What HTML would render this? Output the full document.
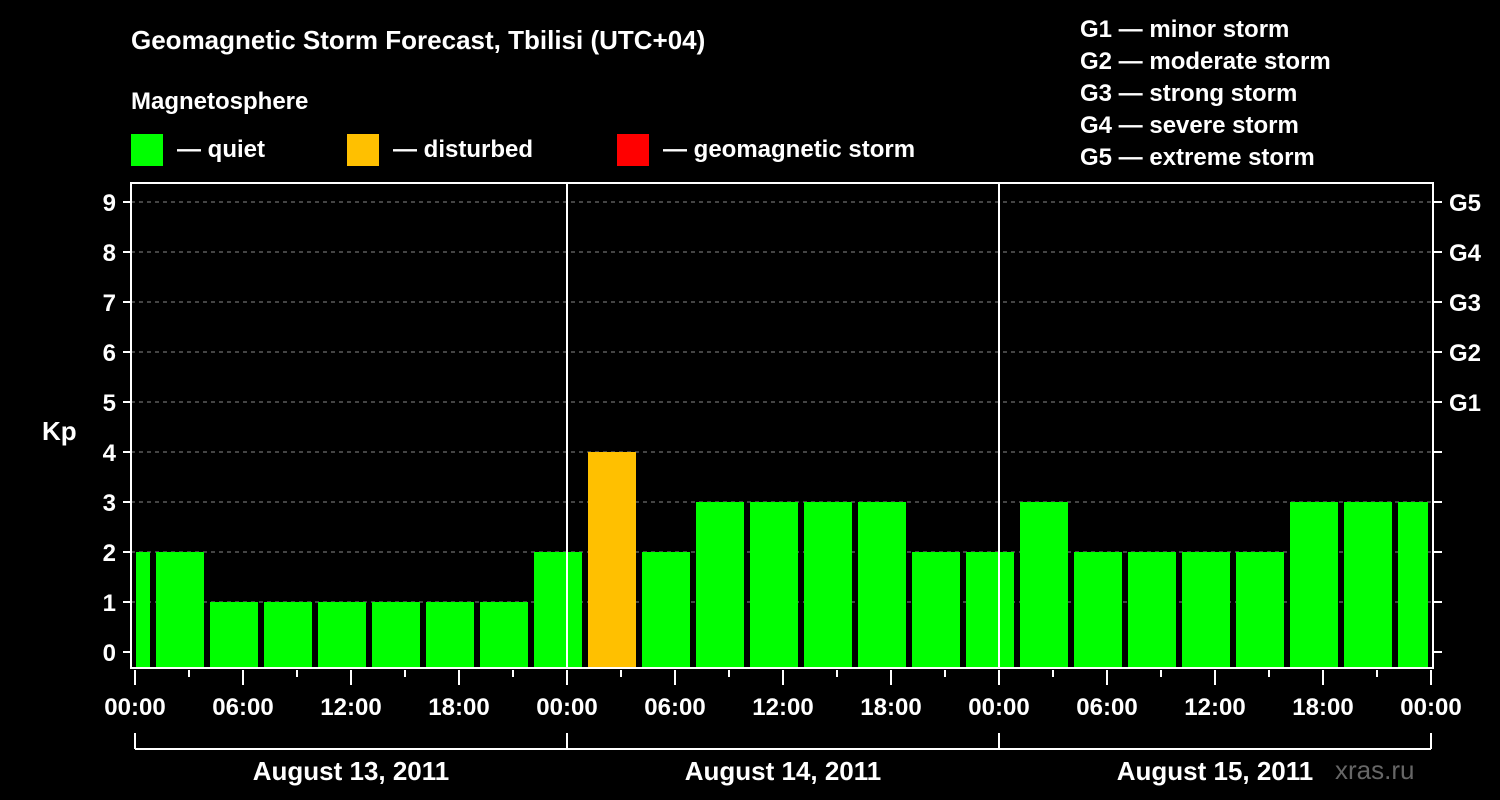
<!DOCTYPE html>
<html><head><meta charset="utf-8"><style>
html,body{margin:0;padding:0;background:#000;width:1500px;height:800px;overflow:hidden}
svg text{font-family:"Liberation Sans",Arial,sans-serif;font-weight:bold;fill:#fff}
</style></head><body>
<svg id="chart" width="1500" height="800" xmlns="http://www.w3.org/2000/svg">
<text x="131" y="49" font-size="26">Geomagnetic Storm Forecast, Tbilisi (UTC+04)</text>
<text x="131" y="109" font-size="24">Magnetosphere</text>
<g><rect x="131" y="134" width="32" height="32" fill="#00ff00"/><text x="177" y="157" font-size="24">— quiet</text></g>
<g><rect x="347" y="134" width="32" height="32" fill="#ffc000"/><text x="393" y="157" font-size="24">— disturbed</text></g>
<g><rect x="617" y="134" width="32" height="32" fill="#ff0000"/><text x="663" y="157" font-size="24">— geomagnetic storm</text></g>
<g font-size="24">
<text x="1080" y="37">G1 — minor storm</text><text x="1080" y="69">G2 — moderate storm</text><text x="1080" y="101">G3 — strong storm</text><text x="1080" y="133">G4 — severe storm</text><text x="1080" y="165">G5 — extreme storm</text>
</g>
<text x="42" y="440" font-size="26">Kp</text>
<text x="1335" y="779" font-size="26" fill="#555" style="fill:#666;font-weight:normal">xras.ru</text>
<g id="grid"></g><g id="bars"></g><g id="axes"></g>
</svg>
<script>
const kpValues=[2,2,1,1,1,1,1,1,2,4,2,3,3,3,3,2,2,3,2,2,2,2,3,3,3];
const binStartHours=[-2,1,4,7,10,13,16,19,22,25,28,31,34,37,40,43,46,49,52,55,58,61,64,67,70];
const yTicks=[0,1,2,3,4,5,6,7,8,9];
const gLabels=["","","","","","G1","G2","G3","G4","G5"];
const xTickLabels=["00:00","06:00","12:00","18:00","00:00","06:00","12:00","18:00","00:00","06:00","12:00","18:00","00:00"];
const dayLabels=["August 13, 2011","August 14, 2011","August 15, 2011"];
const NS="http://www.w3.org/2000/svg";
const L=131,R=1433,T=183,B=668;
const x=h=>135+h*18;
const y=v=>652-v*50;
function mk(p,t,a){const e=document.createElementNS(NS,t);for(const k in a)e.setAttribute(k,a[k]);document.getElementById(p).appendChild(e);return e;}
function col(v){return v>=5?"#ff0000":v>=4?"#ffc000":"#00ff00";}
yTicks.forEach((v,i)=>{
 if(v>0){const g=mk("grid","line",{x1:L,x2:R,y1:y(v),y2:y(v),stroke:"#888","stroke-dasharray":"4,4","stroke-width":1});
 
 }
 const t=mk("axes","line",{x1:L-8,x2:L,y1:y(v),y2:y(v),stroke:"#fff","stroke-width":2});
 const t2=mk("axes","line",{x1:R,x2:R+9,y1:y(v),y2:y(v),stroke:"#fff","stroke-width":2});
 const lb=mk("axes","text",{x:116,y:y(v)+9,"font-size":24,"text-anchor":"end"});lb.textContent=v;
 
 
 if(gLabels[i]){const g2=mk("axes","text",{x:1449,y:y(v)+9,"font-size":24});g2.textContent=gLabels[i];
 
 }
});
kpValues.forEach((v,i)=>{
 let s=Math.max(x(binStartHours[i])+3,x(0)+1),e=Math.min(x(binStartHours[i]+3)-3,x(72)-3);
 const r=mk("bars","rect",{x:s,y:y(v),width:e-s,height:B-y(v),fill:col(v)});
 
 
});
mk("axes","rect",{x:L,y:T,width:R-L,height:B-T,fill:"none",stroke:"#fff","stroke-width":2});
[24,48].forEach(h=>mk("axes","line",{x1:x(h),x2:x(h),y1:T,y2:B,stroke:"#fff","stroke-width":2}));
for(let h=0;h<=72;h+=3){const maj=h%6==0;mk("axes","line",{x1:x(h),x2:x(h),y1:B+2,y2:B+(maj?17:9),stroke:"#fff","stroke-width":2});}
xTickLabels.forEach((s,i)=>{const t=mk("axes","text",{x:x(i*6),y:715,"font-size":24,"text-anchor":"middle"});t.textContent=s;
 
 });
mk("axes","line",{x1:x(0),x2:x(72),y1:749,y2:749,stroke:"#fff","stroke-width":2});
[0,24,48,72].forEach(h=>mk("axes","line",{x1:x(h),x2:x(h),y1:733,y2:749,stroke:"#fff","stroke-width":2}));
dayLabels.forEach((s,i)=>{const t=mk("axes","text",{x:x(i*24+12),y:780,"font-size":26,"text-anchor":"middle"});t.textContent=s;
 
 });
</script>
</body></html>
